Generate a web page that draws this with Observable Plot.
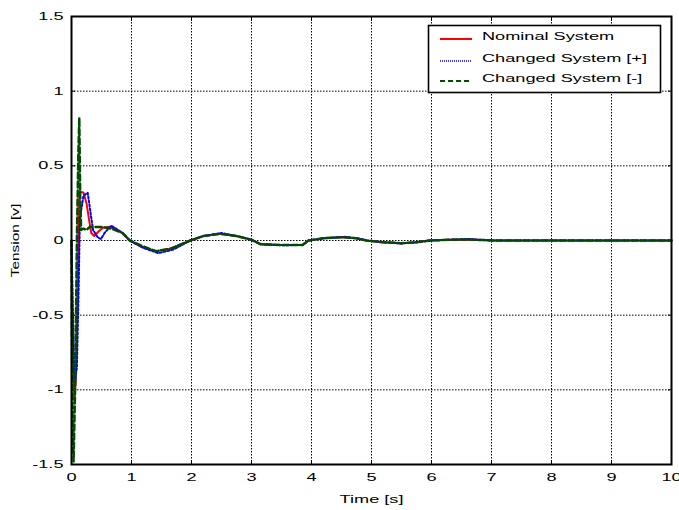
<!DOCTYPE html>
<html><head><meta charset="utf-8">
<script src="https://cdn.jsdelivr.net/npm/d3@7"></script>
<script src="https://cdn.jsdelivr.net/npm/@observablehq/plot@0.6"></script>
<style>
body{margin:0;background:#fff;}
#wrap{position:relative;width:679px;height:510px;font-family:"Liberation Sans",Arial,sans-serif;}
#legend{position:absolute;left:0;top:0;}
</style>
</head><body>
<div id="wrap"></div>
<script>
// ---- data ----
const xTicks = [0,1,2,3,4,5,6,7,8,9,10];
const yTicks = [-1.5,-1,-0.5,0,0.5,1,1.5];
const seriesNames = ["Nominal System","Changed System [+]","Changed System [-]"];
const seriesColors = ["#ff0000","#0000ff","#004d00"];

const nomT = [0,0.02,0.045,0.07,0.1,0.13,0.2,0.25,0.3,0.33,0.38,0.45,0.52,0.62,0.72,0.85,0.97,1.15,1.41,1.65,1.98,2.2,2.48,2.75,3.0,3.15,3.5,3.85,3.95,4.2,4.52,4.75,4.92,5.2,5.5,5.75,5.97,6.3,6.6,6.85,7.1,10];
const nomV = [0,-0.6,-1.07,-0.95,-0.4,0.33,0.32,0.25,0.12,0.05,0.03,0.06,0.085,0.09,0.08,0.05,0,-0.04,-0.072,-0.055,0,0.03,0.045,0.03,0.005,-0.025,-0.03,-0.03,0,0.015,0.022,0.015,0,-0.012,-0.018,-0.012,0,0.005,0.007,0.003,0,0];

const plusT = [0,0.025,0.05,0.09,0.12,0.14,0.2,0.27,0.33,0.36,0.44,0.49,0.55,0.66,0.78,0.88,0.97,1.2,1.45,1.7,1.98,2.2,2.5,2.75,3.0,3.15,3.5,3.85,3.95,4.2,4.55,4.75,4.92,5.2,5.5,5.75,5.97,6.3,6.6,6.8,7.0,10];
const plusV = [0,-0.5,-0.97,-0.85,-0.3,0.15,0.3,0.32,0.15,0.07,0.02,0.01,0.05,0.1,0.07,0.04,0,-0.05,-0.085,-0.06,0,0.03,0.05,0.03,0.005,-0.025,-0.032,-0.03,0,0.015,0.025,0.015,0,-0.012,-0.02,-0.012,0,0.005,0.01,0.005,0,0];

const minusT = [0,0.015,0.035,0.06,0.09,0.115,0.13,0.145,0.16,0.2,0.25,0.3,0.4,0.5,0.6,0.7,0.85,0.97,1.2,1.41,1.65,1.98,2.2,2.48,2.75,3.0,3.15,3.5,3.85,3.95,4.2,4.52,4.75,4.92,5.2,5.5,5.75,5.97,6.3,6.6,6.85,7.1,10];
const minusV = [0,-1.2,-1.48,-1.0,0,0.6,0.82,0.3,0.07,0.08,0.07,0.09,0.09,0.09,0.085,0.075,0.05,0,-0.04,-0.072,-0.055,0,0.03,0.045,0.03,0.005,-0.025,-0.03,-0.03,0,0.015,0.022,0.015,0,-0.012,-0.018,-0.012,0,0.005,0.007,0.003,0,0];

const rows = (T, V) => T.map((t, i) => ({t, v: V[i]}));
const nominal = rows(nomT, nomV);
const plus = rows(plusT, plusV);
const minus = rows(minusT, minusV);

const fmt = d => String(d);
const chart = Plot.plot({
  width: 679, height: 510,
  marginLeft: 71, marginRight: 8, marginTop: 16, marginBottom: 46,
  x: {domain: [0, 10]},
  y: {domain: [-1.5, 1.5]},
  style: {fontFamily: "Liberation Sans, Arial, sans-serif", fontSize: "11px", color: "#000", background: "#fff"},
  marks: [
    Plot.gridX(xTicks.slice(1, -1), {stroke: "#000", strokeOpacity: 1, strokeWidth: 1, strokeDasharray: "1.5,1.5"}),
    Plot.gridY(yTicks.slice(1, -1), {stroke: "#000", strokeOpacity: 1, strokeWidth: 1, strokeDasharray: "1.5,1.5"}),
    Plot.axisX(xTicks, {anchor: "bottom", tickSize: -4, tickFormat: () => "", label: null}),
    Plot.axisX(xTicks, {anchor: "top", tickSize: -4, tickFormat: () => "", label: null}),
    Plot.axisY(yTicks, {anchor: "left", tickSize: -4, tickFormat: () => "", label: null}),
    Plot.axisY(yTicks, {anchor: "right", tickSize: -4, tickFormat: () => "", label: null}),
    Plot.axisX(xTicks, {anchor: "bottom", tickSize: 0, tickPadding: 9, tickFormat: fmt, label: "Time [s]", labelAnchor: "center", labelArrow: "none", labelOffset: 38}),
    Plot.axisY(yTicks, {anchor: "left", tickSize: 0, tickPadding: 8, tickFormat: fmt, label: "Tension [v]", labelAnchor: "center", labelArrow: "none", labelOffset: 60}),
    Plot.line(nominal, {x: "t", y: "v", stroke: seriesColors[0], strokeWidth: 2}),
    Plot.line(plus, {x: "t", y: "v", stroke: seriesColors[1], strokeWidth: 2, strokeDasharray: "2,2"}),
    Plot.line(minus, {x: "t", y: "v", stroke: seriesColors[2], strokeWidth: 2.5, strokeDasharray: "6,3"}),
    Plot.frame({stroke: "#000", strokeWidth: 2})
  ]
});
const wrap = document.getElementById("wrap");
wrap.appendChild(chart);

// legend (inside the plot area, top-right)
const ns = "http://www.w3.org/2000/svg";
const leg = document.createElementNS(ns, "svg");
leg.setAttribute("id", "legend");
leg.setAttribute("width", 679); leg.setAttribute("height", 510);
leg.style.pointerEvents = "none";
const box = document.createElementNS(ns, "rect");
box.setAttribute("x", 428.5); box.setAttribute("y", 25.5);
box.setAttribute("width", 232); box.setAttribute("height", 67);
box.setAttribute("fill", "#fff"); box.setAttribute("stroke", "#000"); box.setAttribute("stroke-width", 1.6);
leg.appendChild(box);
const rowY = [39, 61, 81];
const dashes = [null, "1,1", "5,3"];
const widths = [2, 1.4, 2];
seriesNames.forEach((name, i) => {
  const ln = document.createElementNS(ns, "line");
  ln.setAttribute("x1", 440); ln.setAttribute("x2", 472);
  ln.setAttribute("y1", rowY[i]); ln.setAttribute("y2", rowY[i]);
  ln.setAttribute("stroke", seriesColors[i]); ln.setAttribute("stroke-width", widths[i]);
  if (dashes[i]) ln.setAttribute("stroke-dasharray", dashes[i]);
  leg.appendChild(ln);
  const tx = document.createElementNS(ns, "text");
  tx.setAttribute("x", 482); tx.setAttribute("y", rowY[i] + 1);
  tx.setAttribute("font-family", "Liberation Sans, Arial, sans-serif");
  tx.setAttribute("font-size", 11);
  tx.textContent = name;
  leg.appendChild(tx);
});
wrap.appendChild(leg);

// widen text to mimic the horizontally stretched reference typography
function stretch(svg, f) {
  svg.querySelectorAll("text").forEach(t => {
    if (!t.textContent) return;
    const len = t.getComputedTextLength();
    if (!len) return;
    const tr = t.getAttribute("transform") || "";
    const k = /rotate/.test(tr) ? 1.4 : f;
    t.setAttribute("textLength", (len * k).toFixed(1));
    t.setAttribute("lengthAdjust", "spacingAndGlyphs");
  });
}
stretch(chart, 1.65);
stretch(leg, 1.65);
</script>
</body></html>
